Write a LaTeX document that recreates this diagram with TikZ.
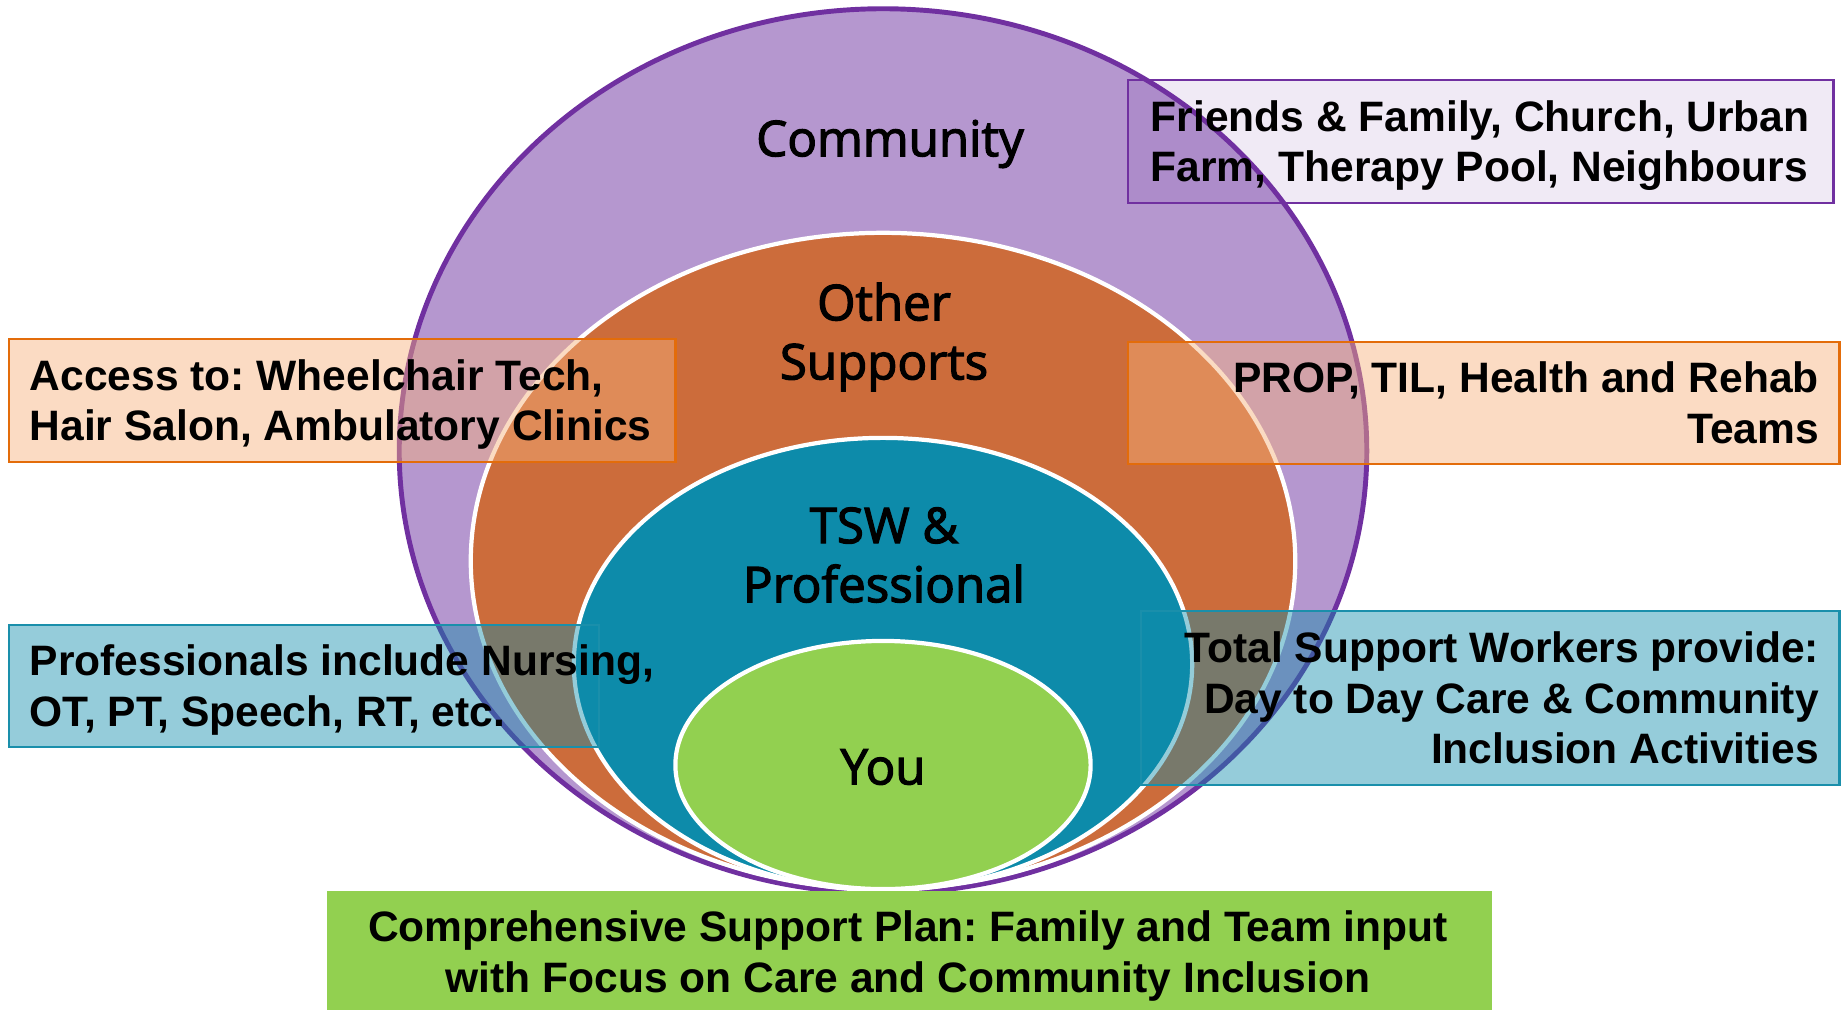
\documentclass[tikz,border=0pt]{standalone}
\usepackage{fontspec}
\setmainfont{Liberation Sans}
\newfontfamily\ringfont{Open Sans}[FakeBold=2.5]
\frenchspacing
\definecolor{cmpurple}{HTML}{7030A0}
\definecolor{cmlilac}{HTML}{B597CF}
\definecolor{cmorange}{HTML}{CC6C3B}
\definecolor{cmteal}{HTML}{0D8BAA}
\definecolor{cmgreen}{HTML}{92D050}
\definecolor{cmpeach}{HTML}{F6B17C}
\definecolor{cmpeachline}{HTML}{E36C0A}
\definecolor{cmtealline}{HTML}{1A8FAB}

\tikzset{
  ringline/.style={draw=white, line width=1.2pt},
  ringlabel/.style={font=\ringfont\fontsize{14}{16.8}\selectfont, align=center},
  infobox/.style={rectangle, anchor=north west, inner sep=0pt, line width=0.6pt},
  infotext/.style={font=\bfseries\fontsize{12.1}{14.4}\selectfont\frenchspacing, inner sep=0pt},
}

\begin{document}
\begin{tikzpicture}[x=0.01cm, y=-0.01cm]
            \useasboundingbox (0,0) rectangle (1843,1009);

            \filldraw[fill=cmlilac, draw=cmpurple, line width=1.4pt] (883,451) ellipse [x radius=4.835cm, y radius=4.42cm];
            \filldraw[fill=cmorange, ringline] (883,561) ellipse [x radius=4.12cm, y radius=3.28cm];
            \filldraw[fill=cmteal, ringline] (883,664) ellipse [x radius=3.09cm, y radius=2.26cm];
            \filldraw[fill=cmgreen, ringline] (883,765) ellipse [x radius=2.075cm, y radius=1.24cm];

            \node[ringlabel] (community) at (890,144) {Community};
            \node[ringlabel] (others) at (884,337) {Other\\Supports};
            \node[ringlabel] (tsw) at (884,555) {TSW \&\\Professional};
            \node[ringlabel] (you) at (883,767) {You};

            \node[infobox, draw=cmpurple, fill=cmpurple, fill opacity=0.1, minimum width=7.05cm, minimum height=1.23cm] (friendsbox) at (1127,79) {};
            \node[infotext, anchor=west, align=left] (friends) at ([xshift=0.23cm, yshift=-0.04cm]friendsbox.west) {Friends \& Family, Church, Urban\\Farm, Therapy Pool, Neighbours};

            \node[infobox, draw=cmpeachline, fill=cmpeach, fill opacity=0.46, minimum width=6.66cm, minimum height=1.23cm] (accessbox) at (8,338) {};
            \node[infotext, anchor=west, align=left] (access) at ([xshift=0.21cm, yshift=-0.04cm]accessbox.west) {Access to: Wheelchair Tech,\\Hair Salon, Ambulatory Clinics};

            \node[infobox, draw=cmpeachline, fill=cmpeach, fill opacity=0.46, minimum width=7.11cm, minimum height=1.22cm] (propbox) at (1127,341) {};
            \node[infotext, anchor=east, align=right] (prop) at ([xshift=-0.21cm]propbox.east) {PROP, TIL, Health and Rehab\\Teams};

            \node[infobox, draw=cmtealline, fill=cmteal, fill opacity=0.44, minimum width=5.9cm, minimum height=1.22cm] (profbox) at (8,624) {};
            \node[infotext, anchor=west, align=left] (prof) at ([xshift=0.21cm, yshift=-0.04cm]profbox.west) {Professionals include Nursing,\\OT, PT, Speech, RT, etc.};

            \node[infobox, draw=cmtealline, fill=cmteal, fill opacity=0.44, minimum width=6.98cm, minimum height=1.74cm] (workersbox) at (1140,610) {};
            \node[infotext, anchor=east, align=right] (workers) at ([xshift=-0.21cm]workersbox.east) {Total Support Workers provide:\\Day to Day Care \& Community\\Inclusion Activities};

            \node[infobox, fill=cmgreen, minimum width=11.64cm, minimum height=1.19cm] (planbox) at (326,890) {};
            \node[infotext, align=center] (plan) at (908,956) {Comprehensive Support Plan: Family and Team input\\with Focus on Care and Community Inclusion};
        \end{tikzpicture}
\end{document}
